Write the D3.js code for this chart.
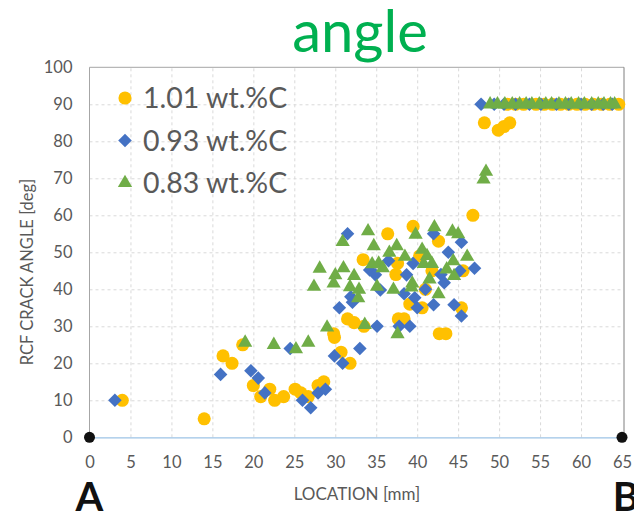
<!DOCTYPE html>
<html>
<head>
<meta charset="utf-8">
<script src="https://cdn.jsdelivr.net/npm/d3@7"></script>
<style>
  html, body { margin: 0; padding: 0; background: #fff; }
  svg { display: block; font-family: Lato, "Open Sans", sans-serif; }
</style>
</head>
<body>
<svg id="chart" width="634" height="513"></svg>
<script>
// RCF crack angle along the rail profile, A (0 mm) to B (65 mm)
const xTicks = [0, 5, 10, 15, 20, 25, 30, 35, 40, 45, 50, 55, 60, 65];
const yTicks = [0, 10, 20, 30, 40, 50, 60, 70, 80, 90, 100];
const seriesNames = ["1.01 wt.%C", "0.93 wt.%C", "0.83 wt.%C"];

// [location mm, angle deg]
const c101 = [
  [4, 10], [14, 5], [16.3, 22], [17.4, 20], [18.7, 25], [20, 14], [20.9, 11], [22, 13],
  [22.6, 10], [23.7, 11], [25.1, 13], [25.8, 12], [26.7, 11], [27.9, 14], [28.6, 15],
  [29.8, 28], [29.9, 27], [30.7, 23], [31.8, 20], [31.5, 32], [32.3, 31], [33.5, 30],
  [33.4, 48], [36.4, 55], [37.4, 44], [37.6, 47], [37.7, 32], [38.4, 32], [39.1, 36], [39.5, 57],
  [40.3, 49], [40.6, 35], [41, 40], [41.8, 45], [42.6, 53], [42.7, 28], [43.5, 28],
  [45.4, 35], [45.6, 45], [46.8, 60], [48.2, 85], [49.9, 83], [50.6, 84], [51.3, 85],
  [51, 90], [52, 90], [53, 90], [54.5, 90], [55.5, 90], [56.5, 90], [57.5, 90], [58.5, 90],
  [59.5, 90], [60.5, 90], [61.5, 90], [62.5, 90], [63.5, 90], [64.6, 90]
];
const c093 = [
  [3.1, 10], [16, 17], [19.7, 18], [20.6, 16], [21.4, 12], [24.5, 24], [26, 10], [27, 8],
  [27.9, 12], [28.8, 13], [29.9, 22], [30.9, 20], [30.5, 35], [31.5, 55], [31.9, 38],
  [32.1, 36.5], [33, 24], [34.2, 45.2], [34.9, 43.9], [35.5, 39.8], [35.1, 30], [36.5, 47.7],
  [38.7, 43.9], [38.4, 38.8], [37.8, 30], [39.1, 30], [39.5, 47], [39.7, 37.7], [40, 35],
  [41, 40], [42, 55], [42, 35.8], [42.9, 44], [43.3, 41.8], [43.8, 50], [44.5, 35.8],
  [45.4, 52.7], [45.2, 45], [45.4, 32.8], [47, 45.7],
  [47.8, 90], [49.4, 90], [50.6, 90], [52, 90], [53.7, 90], [55.1, 90], [57, 90], [58.5, 90],
  [60, 90], [61.3, 90], [62.7, 90], [63.8, 90]
];
const c083 = [
  [19, 25.6], [22.5, 25], [25.2, 23.8], [26.7, 25.6], [28.1, 45.6], [27.4, 40.7], [30, 43.8],
  [29.8, 41.6], [29, 29.7], [30.9, 52.8], [31, 45.7], [32.3, 43.6], [31.8, 40.6], [32.9, 39.9],
  [32.8, 37.6], [34, 55.7], [34.7, 51.7], [37.5, 51.7], [36.6, 49.9], [38.5, 48.8], [34.5, 46.8],
  [35.3, 47], [35.8, 45.7], [35.1, 40.7], [37.1, 39.9], [33.6, 30.4], [37.6, 27.9], [39.8, 54.8],
  [42.1, 56.8], [44.3, 55.6], [45, 54.9], [40.6, 50.7], [41.2, 49], [44.4, 47.6], [46.1, 48.8],
  [40.8, 46.9], [41.8, 46.9], [43.6, 45.4], [44.5, 43.6], [41.5, 42.7], [39.4, 41.6], [39.3, 40.5],
  [42.6, 38.7], [48.1, 69.7], [48.4, 71.8],
  [48.9, 90], [49.8, 90], [50.7, 90], [51.6, 90], [52.5, 90], [53.3, 90], [54, 90], [54.9, 90],
  [55.7, 90], [56.4, 90], [57.3, 90], [58.1, 90], [58.8, 90], [59.7, 90], [60.4, 90], [61.3, 90],
  [62.1, 90], [62.8, 90], [63.6, 90], [64.1, 90]
];
const endPoints = [[0, 0], [65, 0]];

const colors = ["#FFC000", "#4472C4", "#70AD47"];
const shapes = [
  d3.symbol().type(d3.symbolCircle).size(135),
  d3.symbol().type(d3.symbolSquare).size(92),
  d3.symbol().type(d3.symbolTriangle).size(88)
];
const rotations = [0, 45, 0];

const svg = d3.select("#chart");
const plotLeft = 89.5, plotRight = 622, plotTop = 67.3, plotBottom = 437.3;
const x = d3.scaleLinear().domain([0, 65]).range([plotLeft, plotRight]);
const y = d3.scaleLinear().domain([0, 100]).range([plotBottom, plotTop]);

svg.append("rect").attr("width", 634).attr("height", 513).attr("fill", "#fff");

// dashed gridlines
const grid = svg.append("g");
grid.append("g")
  .attr("transform", `translate(0,${plotBottom})`)
  .call(d3.axisBottom(x).tickValues(xTicks.slice(1, -1)).tickSize(-(plotBottom - plotTop)).tickFormat(""))
  .call(g => g.select(".domain").remove())
  .call(g => g.selectAll("line").attr("stroke", "#d9d9d9").attr("stroke-dasharray", "3,3"));
grid.append("g")
  .attr("transform", `translate(${plotLeft},0)`)
  .call(d3.axisLeft(y).tickValues(yTicks.slice(1, -1)).tickSize(-(plotRight - plotLeft)).tickFormat(""))
  .call(g => g.select(".domain").remove())
  .call(g => g.selectAll("line").attr("stroke", "#d9d9d9").attr("stroke-dasharray", "3,3"));

// frame
svg.append("line").attr("x1", plotLeft).attr("x2", plotRight + 2).attr("y1", plotTop).attr("y2", plotTop)
  .attr("stroke", "#a6a6a6").attr("stroke-width", 1);
svg.append("line").attr("x1", plotLeft).attr("x2", plotLeft).attr("y1", plotTop).attr("y2", plotBottom)
  .attr("stroke", "#a6a6a6").attr("stroke-width", 1);
svg.append("line").attr("x1", plotRight + 2).attr("x2", plotRight + 2).attr("y1", plotTop).attr("y2", plotBottom)
  .attr("stroke", "#7f7f7f").attr("stroke-width", 1);

// axis tick labels
const yAxis = svg.append("g")
  .attr("transform", `translate(${plotLeft},0)`)
  .call(d3.axisLeft(y).tickValues(yTicks).tickSize(0).tickPadding(17));
yAxis.select(".domain").remove();
yAxis.selectAll("text").attr("fill", "#595959").attr("font-size", 16.5)
  .attr("font-family", "Lato, sans-serif");

const xAxis = svg.append("g")
  .attr("transform", `translate(0,${plotBottom})`)
  .call(d3.axisBottom(x).tickValues(xTicks).tickSize(0).tickPadding(19));
xAxis.select(".domain").attr("stroke", "#9DC3E6").attr("stroke-width", 1.3);
xAxis.selectAll("text").attr("fill", "#595959").attr("font-size", 16.5)
  .attr("font-family", "Lato, sans-serif");

// data points
[c101, c093, c083].forEach((data, i) => {
  svg.append("g").selectAll("path").data(data).join("path")
    .attr("d", shapes[i])
    .attr("transform", d => `translate(${x(d[0])},${y(d[1])}) rotate(${rotations[i]})`)
    .attr("fill", colors[i]);
});

// end markers A and B
svg.append("g").selectAll("circle").data(endPoints).join("circle")
  .attr("cx", d => x(d[0])).attr("cy", d => y(d[1])).attr("r", 5.5).attr("fill", "#111");

// legend
const legend = svg.append("g");
seriesNames.forEach((name, i) => {
  const ly = 98 + i * 42.5;
  legend.append("path").attr("d", shapes[i])
    .attr("transform", `translate(125,${ly}) rotate(${rotations[i]})`)
    .attr("fill", colors[i]);
  legend.append("text").attr("x", 143).attr("y", ly + 10)
    .attr("font-size", 28.5).attr("fill", "#595959").text(name);
});

// titles
svg.append("text").attr("x", 360).attr("y", 52).attr("text-anchor", "middle")
  .attr("font-size", 58).attr("fill", "#00B050").text("angle");

svg.append("text").attr("transform", "translate(33,272) rotate(-90)")
  .attr("text-anchor", "middle").attr("font-size", 16.5).attr("fill", "#595959")
  .text("RCF CRACK ANGLE [deg]");

svg.append("text").attr("x", 357).attr("y", 500).attr("text-anchor", "middle")
  .attr("font-size", 17).attr("fill", "#595959").text("LOCATION [mm]");

svg.append("text").attr("x", x(0)).attr("y", 511).attr("text-anchor", "middle")
  .attr("font-size", 40).attr("font-weight", "bold").attr("fill", "#111").text("A");
svg.append("text").attr("x", x(65) + 4).attr("y", 511).attr("text-anchor", "middle")
  .attr("font-size", 40).attr("font-weight", "bold").attr("fill", "#111").text("B");
</script>
</body>
</html>
